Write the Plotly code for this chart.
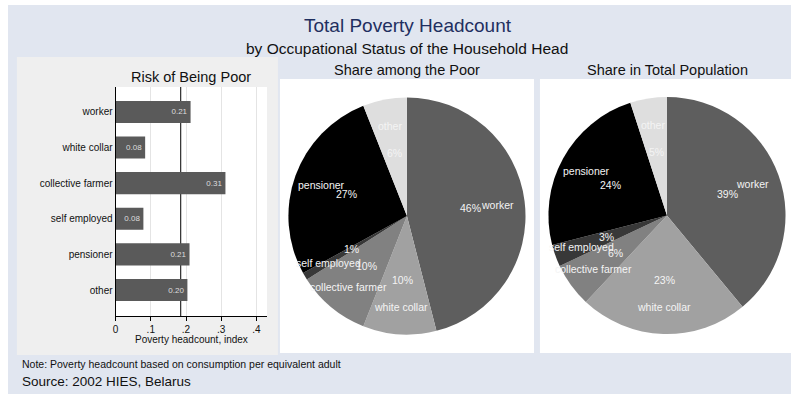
import math
import plotly.graph_objects as go

# ---------------- data ----------------
categories = ["worker", "white collar", "collective farmer", "self employed", "pensioner", "other"]
risk_values = [0.213, 0.084, 0.312, 0.079, 0.210, 0.204]
poverty_line = 0.185
share_poor = [46, 10, 10, 1, 27, 6]
share_pop = [39, 23, 6, 3, 24, 5]
x_tickvals = [0, 0.1, 0.2, 0.3, 0.4]
x_ticktext = ["0", ".1", ".2", ".3", ".4"]
slice_colors = ["#5e5e5e", "#a1a1a1", "#818181", "#383838", "#000000", "#dedede"]

W, H = 791, 394
FONT = "Liberation Sans, Arial, Helvetica, sans-serif"


def px(x):
    return x / W


def py(y):
    return 1 - y / H


fig = go.Figure()

# ---------------- bar chart ----------------
fig.add_trace(go.Bar(
    x=risk_values, y=categories, orientation="h",
    width=0.62, marker=dict(color="#5a5a5a", line=dict(width=0)),
    text=[f"{v:.2f}" for v in risk_values], textposition="inside",
    insidetextanchor="end", textfont=dict(size=8, color="#dddddd", family=FONT),
    cliponaxis=False, showlegend=False, xaxis="x", yaxis="y",
))

# ---------------- pies ----------------
pies = [
    dict(values=share_poor, cx=405.5, cy=216, r=119),
    dict(values=share_pop, cx=666.5, cy=215.5, r=119),
]
for p in pies:
    fig.add_trace(go.Pie(
        values=p["values"], labels=categories, sort=False, direction="clockwise",
        rotation=0, marker=dict(colors=slice_colors, line=dict(width=0)),
        textinfo="none", showlegend=False,
        domain=dict(x=[px(p["cx"] - p["r"]), px(p["cx"] + p["r"])],
                    y=[py(p["cy"] + p["r"]), py(p["cy"] - p["r"])]),
    ))

annotations = []
for p in pies:
    total = sum(p["values"])
    cum = 0
    for lab, v in zip(categories, p["values"]):
        mid = (cum + v / 2) / total
        cum += v
        th = math.radians(90 - 360 * mid)
        for rr, txt in ((0.77, lab), (0.54, f"{round(100 * v / total)}%")):
            xx = p["cx"] + rr * p["r"] * math.cos(th)
            yy = p["cy"] - rr * p["r"] * math.sin(th)
            annotations.append(dict(
                x=px(xx), y=py(yy), xref="paper", yref="paper", text=txt,
                showarrow=False, xanchor="center", yanchor="middle",
                font=dict(size=10.5, color="#f4f4f4", family=FONT)))


def ann(text, x, y, size, color="#111111", xanchor="center"):
    annotations.append(dict(
        x=px(x), y=py(y), xref="paper", yref="paper", text=text, showarrow=False,
        xanchor=xanchor, yanchor="middle", font=dict(size=size, color=color, family=FONT)))


ann("Total Poverty Headcount", 407, 25, 19, "#1f2f5f")
ann("by Occupational Status of the Household Head", 406, 48, 15.5, "#111111")
ann("Risk of Being Poor", 189, 77, 14.5)
ann("Share among the Poor", 406, 70, 14.5)
ann("Share in Total Population", 667, 70, 14.5)
ann("Poverty headcount, index", 189, 339, 10)
ann("Note: Poverty headcount based on consumption per equivalent adult", 17, 364, 10.5, xanchor="left")
ann("Source: 2002 HIES, Belarus", 17, 381, 13.5, xanchor="left")

shapes = [
    dict(type="rect", xref="paper", yref="paper", x0=px(5), x1=px(791), y0=py(394), y1=py(5),
         fillcolor="#e1e6f0", line=dict(width=0), layer="below"),
    dict(type="rect", xref="paper", yref="paper", x0=px(14), x1=px(276), y0=py(355), y1=py(57),
         fillcolor="#efefef", line=dict(width=0), layer="below"),
    dict(type="rect", xref="paper", yref="paper", x0=px(113), x1=px(265), y0=py(316), y1=py(87),
         fillcolor="#ffffff", line=dict(width=0), layer="below"),
    dict(type="rect", xref="paper", yref="paper", x0=px(278), x1=px(533), y0=py(353), y1=py(79),
         fillcolor="#ffffff", line=dict(width=0), layer="below"),
    dict(type="rect", xref="paper", yref="paper", x0=px(539), x1=px(791), y0=py(353), y1=py(79),
         fillcolor="#ffffff", line=dict(width=0), layer="below"),
    dict(type="line", xref="x", yref="y domain", x0=poverty_line, x1=poverty_line, y0=0, y1=1,
         line=dict(color="#000000", width=1), layer="below"),
]

fig.update_layout(
    width=W, height=H, margin=dict(l=0, r=0, t=0, b=0),
    paper_bgcolor="#ffffff", plot_bgcolor="rgba(0,0,0,0)",
    font=dict(family=FONT, color="#111111"),
    xaxis=dict(domain=[px(113), px(265)], range=[0, 0.43], tickvals=x_tickvals, ticktext=x_ticktext,
               ticks="outside", ticklen=4, tickcolor="#000000", showline=True, linecolor="#000000",
               linewidth=1, showgrid=True, gridcolor="#e4e4e4", zeroline=False,
               tickfont=dict(size=10, color="#111111"), anchor="y", fixedrange=True),
    yaxis=dict(domain=[py(316), py(87)], type="category", categoryorder="array",
               categoryarray=categories, range=[5.73, -0.70], showline=True, linecolor="#000000",
               linewidth=1, ticks="", showgrid=False, zeroline=False,
               tickfont=dict(size=10, color="#111111"), anchor="x", fixedrange=True),
    shapes=shapes, annotations=annotations,
)

fig.write_html("out.html", config={"displayModeBar": False},
               post_script="document.body.style.margin='0';document.body.style.overflow='hidden';")
